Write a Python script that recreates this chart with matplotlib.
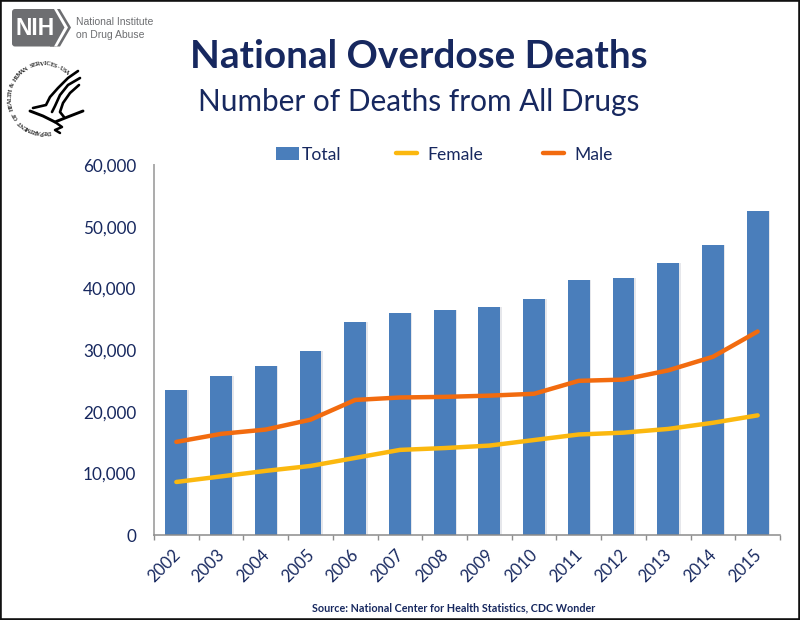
import numpy as np
import matplotlib
matplotlib.use("Agg")
import matplotlib.pyplot as plt
from matplotlib.patches import Polygon, Rectangle, FancyBboxPatch
from matplotlib.transforms import ScaledTranslation

years = ["2002","2003","2004","2005","2006","2007","2008","2009","2010","2011","2012","2013","2014","2015"]
total = [23500,25800,27400,29800,34500,36000,36450,37050,38300,41400,41650,44150,47100,52600]
female = [8600,9500,10400,11200,12500,13800,14100,14500,15400,16300,16600,17200,18200,19400]
male = [15100,16400,17100,18700,21900,22300,22400,22600,22900,25000,25200,26700,28900,33000]
yticks = [0,10000,20000,30000,40000,50000,60000]

NAVY = "#17285f"
BLUE = "#4a7ebb"
ORANGE = "#f26b0f"
YELLOW = "#fbb80f"
plt.rcParams["font.family"] = ["Lato", "DejaVu Sans"]

W, H = 800, 620
fig = plt.figure(figsize=(W/100, H/100), dpi=100, facecolor="white")
ax = fig.add_axes([154/W, 1-535/H, (780-154)/W, (535-165)/H])
x = np.arange(len(years))
ax.bar(x + 0.035, total, width=0.49, color="#e6e7eb", zorder=1)
bars = ax.bar(x, total, width=0.49, color=BLUE, zorder=2, label="Total")
lf, = ax.plot(x, female, color=YELLOW, lw=3.2, zorder=3, label="Female", solid_capstyle="round")
lm, = ax.plot(x, male, color=ORANGE, lw=3.2, zorder=4, label="Male", solid_capstyle="round")
ax.set_xlim(-0.5, len(years)-0.5)
ax.set_ylim(0, 60000)
ax.set_yticks(yticks)
ax.set_yticklabels([f"{v:,}" for v in yticks], fontsize=12.3, color=NAVY)
ax.set_xticks(np.arange(-0.5, len(years)))
ax.set_xticklabels([])
ax.set_xticks(x, minor=True)
ax.set_xticklabels(years, minor=True, rotation=45, ha="right", rotation_mode="anchor",
                   fontsize=12, color=NAVY)
ax.tick_params(axis="x", which="major", length=3.8, color="#8c8c8c", width=1)
ax.tick_params(axis="x", which="minor", length=0, pad=8)
ax.tick_params(axis="y", length=0, pad=12.8)
for lab in ax.get_xticklabels(minor=True):
    lab.set_transform(lab.get_transform() + ScaledTranslation(-4.5/100, 0, fig.dpi_scale_trans))
for s in ["top", "right"]:
    ax.spines[s].set_visible(False)
ax.spines["left"].set_color("#ababab")
ax.spines["left"].set_linewidth(1.4)
ax.spines["bottom"].set_color("#8c8c8c")
ax.spines["bottom"].set_linewidth(1.1)

# One legend per entry so each sits where the reference has it
entries = [(bars, "Total", 276, 0.15, 1.3), (lf, "Female", 396, 0.6, 1.2), (lm, "Male", 543, 0.6, 1.2)]
for handle, label, left, pad, length in entries:
    leg = fig.legend([handle], [label], frameon=False, loc="center left",
                     bbox_to_anchor=(left/W, 1-154.5/H), fontsize=12.6, labelcolor=NAVY,
                     handlelength=length, handletextpad=pad, borderpad=0, borderaxespad=0)

# Overlay in pixel coordinates for titles, logos, and frame
ov = fig.add_axes([0, 0, 1, 1], zorder=5)
ov.set_xlim(0, W); ov.set_ylim(H, 0); ov.axis("off"); ov.patch.set_alpha(0)
ov.text(419, 57, "National Overdose Deaths", ha="center", va="center", fontsize=27.9,
        fontweight="bold", color=NAVY)
ov.text(419, 102, "Number of Deaths from All Drugs", ha="center", va="center", fontsize=21.4, color=NAVY)
ov.text(454, 608, "Source: National Center for Health Statistics, CDC Wonder", ha="center", va="center",
        fontsize=7.75, fontweight="bold", color=NAVY)

# NIH logo
GREY = "#6d6e71"
ov.add_patch(FancyBboxPatch((12, 9), 46, 37.5, boxstyle="round,pad=0,rounding_size=3", fc=GREY, ec="none"))
ov.add_patch(Polygon([[50,9],[60,9],[71,27.5],[60,46.5],[50,46.5],[50,9]], closed=True, fc=GREY, ec="none"))
ov.add_patch(Polygon([[54,9],[57,9],[68,27.5],[57,46.5],[54,46.5],[64.5,27.5]], closed=True, fc="white", ec="none"))
ov.text(35, 28.5, "NIH", ha="center", va="center", color="white", fontsize=16.5, fontweight="bold",
        family=["Liberation Sans"])
ov.text(76, 22, "National Institute", ha="left", va="center", color=GREY, fontsize=7.5, family=["Liberation Sans"])
ov.text(76, 35, "on Drug Abuse", ha="left", va="center", color=GREY, fontsize=7.5, family=["Liberation Sans"])

# HHS seal: ring text
cx, cy, r = 44, 98, 34
seal = "DEPARTMENT OF HEALTH & HUMAN SERVICES-USA"
for i, ch in enumerate(seal):
    deg = 82 + (i/(len(seal)-1))*(312-82)
    t = np.deg2rad(deg)
    px, py = cx + r*np.cos(t), cy + r*np.sin(t)
    ov.text(px, py, ch, ha="center", va="center", fontsize=4.5, color="#222222",
            rotation=270-deg, family=["Liberation Serif"], fontweight="bold")

# HHS seal: eagle strokes
def stroke(pts, lw):
    p = np.array(pts, dtype=float)
    ov.plot(p[:,0], p[:,1], color="black", lw=lw, solid_capstyle="round", solid_joinstyle="round")
stroke([[78,71],[68,78],[58,88],[50,97],[46,105],[33,108]], 1.9)
stroke([[80,78],[68,85],[60,95],[55,106],[52,112]], 1.9)
stroke([[79,85],[70,93],[63,103],[60,112],[64,117]], 1.9)
stroke([[30,111],[43,116],[55,122],[65,118],[83,111]], 2.1)
stroke([[55,122],[62,127],[55,130],[60,133]], 1.8)

# Image frame
ov.add_patch(Rectangle((0, 0), W, H, fc="none", ec="#111111", lw=2.6, clip_on=True))

fig.savefig("out.png", dpi=100, facecolor="white")
